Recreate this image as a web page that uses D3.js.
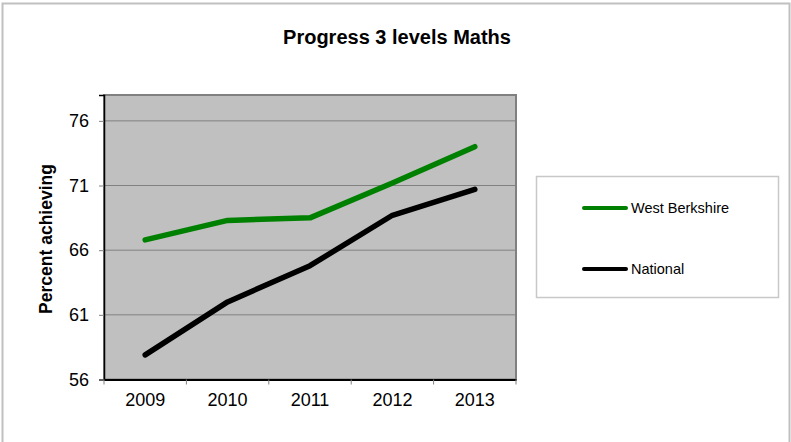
<!DOCTYPE html>
<html>
<head>
<meta charset="utf-8">
<script src="https://cdn.jsdelivr.net/npm/d3@7"></script>
<style>
  body { margin: 0; background: #fff; }
  text { font-family: "Liberation Sans", Arial, sans-serif; }
</style>
</head>
<body>
<script>
var years = ["2009", "2010", "2011", "2012", "2013"];
var westBerkshire = [66.8, 68.3, 68.5, 71.2, 74.0];
var national = [57.9, 62.0, 64.8, 68.7, 70.7];
var yTicks = [56, 61, 66, 71, 76];
var seriesNames = ["West Berkshire", "National"];
var seriesColors = ["#008000", "#000000"];

var width = 791;
var height = 442;

var plot = {left: 104, right: 516, top: 95, bottom: 379.5};

var svg = d3.select("body")
    .append("svg")
    .attr("width", width)
    .attr("height", height);

// outer chart border
svg.append("rect")
    .attr("x", 2.5).attr("y", 3.5)
    .attr("width", width - 4).attr("height", height)
    .attr("fill", "#fff")
    .attr("stroke", "#c0c0c0")
    .attr("stroke-width", 2);

var x = d3.scaleBand().domain(years).range([plot.left, plot.right]);
var y = d3.scaleLinear().domain([56, 78]).range([plot.bottom, plot.top]);

// plot background
svg.append("rect")
    .attr("x", plot.left).attr("y", plot.top)
    .attr("width", plot.right - plot.left)
    .attr("height", plot.bottom - plot.top)
    .attr("fill", "#c0c0c0")
    .attr("stroke", "#808080")
    .attr("stroke-width", 2);

// gridlines
svg.selectAll("line.grid")
    .data(yTicks.slice(1))
    .enter()
    .append("line")
    .attr("class", "grid")
    .attr("x1", plot.left).attr("x2", plot.right)
    .attr("y1", function(d){ return y(d); })
    .attr("y2", function(d){ return y(d); })
    .attr("stroke", "#808080")
    .attr("stroke-width", 1);

// y axis
var yAxis = d3.axisLeft(y).tickValues(yTicks).tickSize(5).tickPadding(10);
var gy = svg.append("g")
    .attr("transform", "translate(" + plot.left + ",0)")
    .call(yAxis);
gy.select(".domain").attr("stroke", "#000").attr("stroke-width", 1.5);
gy.selectAll(".tick line").attr("stroke", "#808080");
gy.selectAll(".tick text")
    .attr("font-size", 18)
    .attr("fill", "#000");

// x axis
var xAxis = d3.axisBottom(x).tickSize(0).tickPadding(14);
var gx = svg.append("g")
    .attr("transform", "translate(0," + plot.bottom + ")")
    .call(xAxis);
gx.select(".domain").attr("stroke", "#000").attr("stroke-width", 2);
gx.selectAll(".tick text")
    .attr("font-size", 18)
    .attr("fill", "#000");

// category separator ticks
var bounds = years.map(function(d){ return x(d); }).concat([x.range()[1]]);
svg.selectAll("line.xtick")
    .data(bounds)
    .enter()
    .append("line")
    .attr("class", "xtick")
    .attr("x1", function(d){ return d; })
    .attr("x2", function(d){ return d; })
    .attr("y1", plot.bottom)
    .attr("y2", plot.bottom + 5)
    .attr("stroke", "#808080");

// lines
var line = d3.line()
    .x(function(d, i){ return x(years[i]) + x.bandwidth() / 2; })
    .y(function(d){ return y(d); });

[westBerkshire, national].forEach(function(s, i){
    svg.append("path")
        .datum(s)
        .attr("d", line)
        .attr("fill", "none")
        .attr("stroke", seriesColors[i])
        .attr("stroke-width", 5.5)
        .attr("stroke-linecap", "round")
        .attr("stroke-linejoin", "round");
});

// title
svg.append("text")
    .attr("x", 397).attr("y", 44)
    .attr("text-anchor", "middle")
    .attr("font-size", 20)
    .attr("font-weight", "bold")
    .text("Progress 3 levels Maths");

// y axis title
svg.append("text")
    .attr("transform", "translate(52,239) rotate(-90)")
    .attr("text-anchor", "middle")
    .attr("font-size", 17.5)
    .attr("font-weight", "bold")
    .text("Percent achieving");

// legend
var legend = svg.append("g");
legend.append("rect")
    .attr("x", 536.5).attr("y", 176.5)
    .attr("width", 242).attr("height", 121)
    .attr("fill", "#fff")
    .attr("stroke", "#c8c8c8")
    .attr("stroke-width", 1.5);

var items = legend.selectAll("g.item")
    .data(seriesNames)
    .enter()
    .append("g")
    .attr("class", "item")
    .attr("transform", function(d, i){ return "translate(0," + (208 + i * 61) + ")"; });

items.append("line")
    .attr("x1", 584).attr("x2", 626)
    .attr("stroke", function(d, i){ return seriesColors[i]; })
    .attr("stroke-width", 4)
    .attr("stroke-linecap", "round");

items.append("text")
    .attr("x", 631).attr("y", 5)
    .attr("font-size", 14.5)
    .text(function(d){ return d; });
</script>
</body>
</html>
